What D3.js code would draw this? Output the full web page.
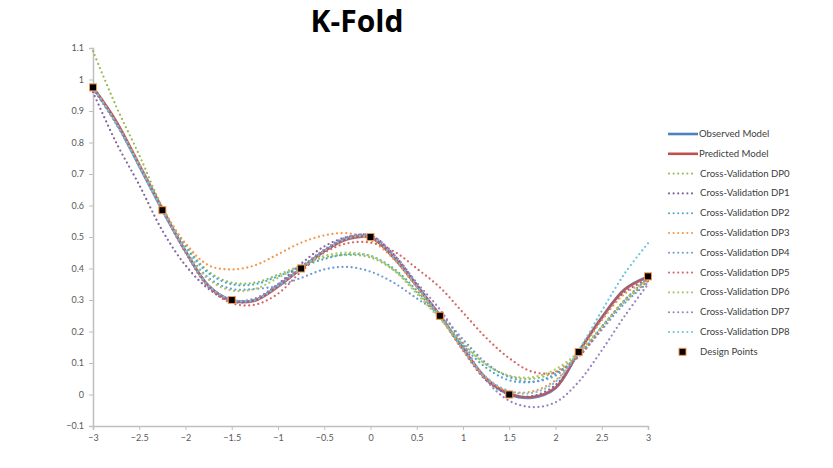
<!DOCTYPE html>
<html><head><meta charset="utf-8">
<script src="https://cdn.jsdelivr.net/npm/d3@7"></script>
<style>
html,body{margin:0;padding:0;background:#fff;}
svg{display:block;}
</style></head>
<body><svg id="chart" width="833" height="468"></svg>
<script>
// ---- data ----
const xGrid = [-3,-2.75,-2.5,-2.25,-2,-1.75,-1.5,-1.25,-1,-0.75,-0.5,-0.25,0,0.25,0.5,0.75,1,1.25,1.5,1.75,2,2.25,2.5,2.75,3];
const observed  = [0.975,0.865,0.725,0.585,0.455,0.345,0.30,0.30,0.345,0.40,0.455,0.495,0.50,0.435,0.345,0.25,0.145,0.05,0.0,-0.01,0.02,0.135,0.245,0.335,0.375];
const predicted = [0.975,0.868,0.73,0.59,0.455,0.345,0.298,0.298,0.342,0.40,0.455,0.493,0.498,0.435,0.345,0.252,0.147,0.052,0.003,-0.008,0.022,0.135,0.243,0.333,0.372];
const dp0 = [1.09,0.915,0.76,0.595,0.475,0.39,0.355,0.355,0.38,0.41,0.435,0.443,0.435,0.395,0.325,0.245,0.165,0.095,0.058,0.05,0.072,0.13,0.215,0.295,0.36];
const dp1 = [0.96,0.80,0.665,0.52,0.41,0.335,0.295,0.30,0.35,0.415,0.47,0.50,0.505,0.445,0.35,0.25,0.14,0.045,0.0,-0.005,0.03,0.13,0.24,0.325,0.365];
const dp2 = [0.975,0.86,0.728,0.59,0.47,0.385,0.35,0.35,0.375,0.405,0.43,0.445,0.44,0.40,0.33,0.245,0.155,0.085,0.045,0.04,0.065,0.125,0.215,0.30,0.37];
const dp3 = [0.975,0.86,0.73,0.59,0.48,0.41,0.397,0.41,0.445,0.482,0.505,0.512,0.49,0.43,0.34,0.245,0.14,0.05,0.01,0.01,0.045,0.13,0.235,0.32,0.36];
const dp4 = [0.975,0.86,0.725,0.585,0.46,0.37,0.335,0.335,0.345,0.37,0.397,0.405,0.39,0.355,0.305,0.255,0.175,0.10,0.055,0.04,0.06,0.12,0.205,0.29,0.355];
const dp5 = [0.97,0.865,0.73,0.585,0.45,0.34,0.29,0.285,0.32,0.39,0.45,0.48,0.482,0.455,0.40,0.34,0.26,0.18,0.115,0.072,0.07,0.12,0.21,0.30,0.36];
const dp6 = [0.975,0.862,0.728,0.588,0.46,0.365,0.33,0.335,0.37,0.41,0.44,0.45,0.44,0.395,0.32,0.24,0.16,0.095,0.06,0.055,0.08,0.135,0.215,0.30,0.365];
const dp7 = [0.97,0.86,0.725,0.585,0.455,0.345,0.30,0.305,0.35,0.405,0.46,0.50,0.505,0.445,0.355,0.27,0.16,0.045,-0.02,-0.04,-0.025,0.04,0.14,0.25,0.35];
const dp8 = [0.975,0.86,0.725,0.585,0.455,0.345,0.30,0.30,0.345,0.40,0.455,0.495,0.50,0.435,0.345,0.25,0.145,0.055,0.01,0.005,0.04,0.14,0.265,0.385,0.48];
const designX = [-3,-2.25,-1.5,-0.75,0,0.75,1.5,2.25,3];
const designY = [0.975,0.585,0.30,0.40,0.50,0.25,0.0,0.135,0.375];
const xTicks = [-3,-2.5,-2,-1.5,-1,-0.5,0,0.5,1,1.5,2,2.5,3];
const yTicks = [-0.1,0,0.1,0.2,0.3,0.4,0.5,0.6,0.7,0.8,0.9,1,1.1];
const seriesNames = ["Observed Model","Predicted Model","Cross-Validation DP0","Cross-Validation DP1","Cross-Validation DP2","Cross-Validation DP3","Cross-Validation DP4","Cross-Validation DP5","Cross-Validation DP6","Cross-Validation DP7","Cross-Validation DP8"];
const seriesValues = [observed,predicted,dp0,dp1,dp2,dp3,dp4,dp5,dp6,dp7,dp8];
const seriesColors = ["#4F81BD","#C0504D","#9BBB59","#8064A2","#4BACC6","#F79646","#6F9BD3","#D46764","#A9C96A","#9A82BE","#6DC3D9"];

// ---- chart ----
const svg = d3.select("#chart");
const x = d3.scaleLinear().domain([-3,3]).range([93,648]);
const y = d3.scaleLinear().domain([-0.1,1.1]).range([426,48]);
const fontFam = "Lato, 'Open Sans', sans-serif";

svg.append("text").attr("x",357).attr("y",32).attr("text-anchor","middle")
  .attr("font-family","'Open Sans', sans-serif").attr("font-weight","bold").attr("font-size",30)
  .attr("fill","#000").text("K-Fold");

const yAxis = svg.append("g").attr("transform","translate(93,0)")
  .call(d3.axisLeft(y).tickValues(yTicks).tickSize(4).tickPadding(5).tickFormat(d=>d3.format("~g")(+d.toFixed(2))));
const xAxis = svg.append("g").attr("transform","translate(0,426)")
  .call(d3.axisBottom(x).tickValues(xTicks).tickSize(4).tickPadding(5).tickFormat(d=>d3.format("~g")(d)));
[yAxis,xAxis].forEach(g=>{
  g.selectAll("path").attr("stroke","#bfbfbf").attr("stroke-width",1.5);
  g.selectAll("line").attr("stroke","#bfbfbf");
  g.selectAll("text").attr("font-family",fontFam).attr("font-size",9).attr("fill","#595959");
});

const line = d3.line().x((d,i)=>x(xGrid[i])).y(d=>y(d)).curve(d3.curveCatmullRom.alpha(0.5));

// solid models
[0,1].forEach(k=>{
  svg.append("path").attr("d",line(seriesValues[k])).attr("fill","none")
    .attr("stroke",seriesColors[k]).attr("stroke-width",2.6).attr("stroke-opacity",0.85);
});
// dotted cross-validation
for(let k=2;k<seriesValues.length;k++){
  svg.append("path").attr("d",line(seriesValues[k])).attr("fill","none")
    .attr("stroke",seriesColors[k]).attr("stroke-width",2.3)
    .attr("stroke-linecap","round").attr("stroke-dasharray","0,4.6");
}
// design points
svg.append("g").selectAll("rect").data(designX).join("rect")
  .attr("x",(d,i)=>x(d)-3.5).attr("y",(d,i)=>y(designY[i])-3.5)
  .attr("width",7).attr("height",7).attr("fill","#000")
  .attr("stroke","#F79646").attr("stroke-width",1);

// legend
const lg = svg.append("g").attr("transform","translate(668,134)");
const rowH = 19.8;
seriesNames.forEach((name,k)=>{
  const gy = k*rowH;
  const ln = lg.append("line").attr("x1",0).attr("x2",k<2?30:28).attr("y1",gy).attr("y2",gy)
    .attr("stroke",seriesColors[k]);
  if(k<2) ln.attr("stroke-width",2.6);
  else ln.attr("stroke-width",2.1).attr("stroke-linecap","round").attr("stroke-dasharray","0,4.6").attr("x1",1);
  lg.append("text").attr("x",k<2?31:32).attr("y",gy+3).attr("font-family",fontFam).attr("font-size",9.6)
    .attr("fill","#404040").text(name);
});
const dpY = seriesNames.length*rowH;
lg.append("rect").attr("x",11).attr("y",dpY-3.5).attr("width",7).attr("height",7)
  .attr("fill","#000").attr("stroke","#F79646").attr("stroke-width",1);
lg.append("text").attr("x",32).attr("y",dpY+3).attr("font-family",fontFam).attr("font-size",9.6)
  .attr("fill","#404040").text("Design Points");
</script>
</body></html>
